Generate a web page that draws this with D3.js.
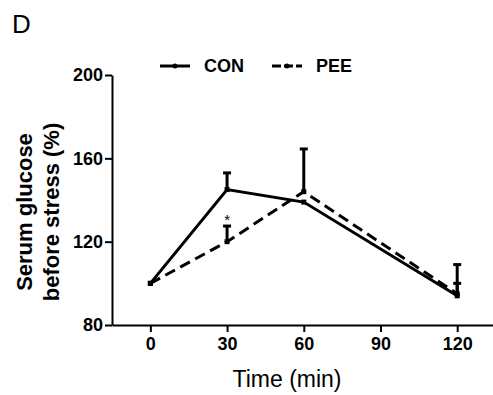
<!DOCTYPE html>
<html>
<head>
<meta charset="utf-8">
<script src="https://cdn.jsdelivr.net/npm/d3@7"></script>
<style>
  body { margin: 0; background: #fff; }
  svg { display: block; font-family: Arial, "Liberation Sans", sans-serif; }
</style>
</head>
<body>
<svg id="chart" width="493" height="395"></svg>
<script>
// time points and series (mean, upper error)
const times = [0, 30, 60, 120];
const conMean = [100, 145, 139, 94];
const conErr = [0, 8, 0, 6];
const peeMean = [100, 120, 144, 95];
const peeErr = [0, 7.5, 20.5, 14];
const xTicks = [0, 30, 60, 90, 120];
const yTicks = [80, 120, 160, 200];

const svg = d3.select('#chart');

const x = d3.scaleLinear().domain([-15, 134]).range([112, 493]);
const y = d3.scaleLinear().domain([80, 200]).range([325, 75]);

// axes
const xAxis = svg.append('g')
  .attr('transform', `translate(0,${y(80)})`)
  .call(d3.axisBottom(x).tickValues(xTicks).tickSize(7).tickPadding(5).tickSizeOuter(0));
const yAxis = svg.append('g')
  .attr('transform', `translate(${x(-15)},0)`)
  .call(d3.axisLeft(y).tickValues(yTicks).tickSize(7).tickPadding(2).tickSizeOuter(0));

[xAxis, yAxis].forEach(a => {
  a.select('.domain').attr('stroke', '#000').attr('stroke-width', 2);
  a.selectAll('.tick line').attr('stroke', '#000').attr('stroke-width', 2);
  a.selectAll('.tick text')
    .attr('fill', '#000')
    .attr('font-size', '18px')
    .attr('font-weight', 'bold')
    .attr('font-family', 'Arial, "Liberation Sans", sans-serif');
});

const line = d3.line().x((d, i) => x(times[i])).y(d => y(d));

function drawSeries(mean, err, dash) {
  const g = svg.append('g');
  // error bars
  mean.forEach((m, i) => {
    if (!err[i]) return;
    g.append('line')
      .attr('x1', x(times[i])).attr('x2', x(times[i]))
      .attr('y1', y(m)).attr('y2', y(m + err[i]))
      .attr('stroke', '#000').attr('stroke-width', 3);
    g.append('line')
      .attr('x1', x(times[i]) - 4).attr('x2', x(times[i]) + 4)
      .attr('y1', y(m + err[i])).attr('y2', y(m + err[i]))
      .attr('stroke', '#000').attr('stroke-width', 3);
  });
  g.append('path')
    .datum(mean)
    .attr('d', line)
    .attr('fill', 'none')
    .attr('stroke', '#000')
    .attr('stroke-width', 3)
    .attr('stroke-dasharray', dash);
  g.selectAll('rect')
    .data(mean)
    .enter()
    .append('rect')
    .attr('x', (d, i) => x(times[i]) - 2.5)
    .attr('y', d => y(d) - 2.5)
    .attr('width', 5).attr('height', 5)
    .attr('fill', '#000');
}

drawSeries(conMean, conErr, null);
drawSeries(peeMean, peeErr, '11,6');

// significance marker
svg.append('text')
  .attr('x', x(30)).attr('y', y(peeMean[1] + peeErr[1]) - 1)
  .attr('text-anchor', 'middle')
  .attr('font-size', '15px')
  .text('*');

// legend
const legend = [
  { name: 'CON', x: 160, dash: null },
  { name: 'PEE', x: 272, dash: '9,3' }
];
legend.forEach(l => {
  svg.append('line')
    .attr('x1', l.x).attr('x2', l.x + 30)
    .attr('y1', 66).attr('y2', 66)
    .attr('stroke', '#000').attr('stroke-width', 3)
    .attr('stroke-dasharray', l.dash);
  svg.append('circle').attr('cx', l.x + 15).attr('cy', 66).attr('r', 2.5).attr('fill', '#000');
  svg.append('text')
    .attr('x', l.x + 44).attr('y', 72)
    .attr('font-size', '18px').attr('font-weight', 'bold')
    .text(l.name);
});

// axis titles
svg.append('text')
  .attr('x', 287).attr('y', 387)
  .attr('text-anchor', 'middle')
  .attr('font-size', '23px')
  .text('Time (min)');

const yTitle = svg.append('text')
  .attr('transform', 'translate(0,212) rotate(-90)')
  .attr('text-anchor', 'middle')
  .attr('font-size', '22px')
  .attr('font-weight', 'bold');
yTitle.append('tspan').attr('x', 0).attr('y', 32).text('Serum glucose');
yTitle.append('tspan').attr('x', 0).attr('y', 59).text('before stress (%)');

// panel letter
svg.append('text')
  .attr('x', 12).attr('y', 33)
  .attr('font-size', '26px')
  .text('D');
</script>
</body>
</html>
